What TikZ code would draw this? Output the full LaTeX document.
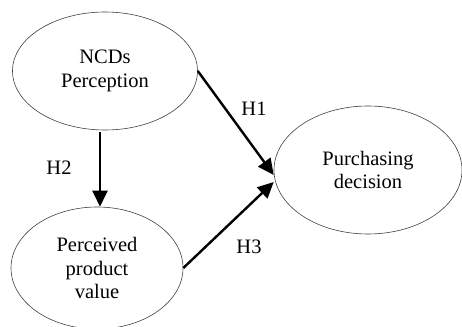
\documentclass[tikz,border=0pt]{standalone}
\usepackage{fontspec}
\setmainfont{Liberation Serif}
\usetikzlibrary{shapes.geometric,arrows.meta}
\begin{document}
\begin{tikzpicture}[x=1pt,y=-1pt,
  oval/.style={ellipse,draw=black!75,line width=0.6pt,inner sep=0pt,align=center,
    font=\fontsize{20.5}{23.5}\selectfont},
  link/.style={line width=2.4pt,-{Triangle[length=16pt,width=15pt]}},
  hlabel/.style={font=\fontsize{20.5}{23.5}\selectfont}]
\useasboundingbox (0,0) rectangle (462,326);
\node[oval,minimum width=185pt,minimum height=118pt] (ncd) at (105,71) {NCDs\\Perception};
\node[oval,minimum width=188pt,minimum height=128pt] (pur) at (368,170) {Purchasing\\decision};
\node[oval,minimum width=172pt,minimum height=122pt] (ppv) at (97,268) {Perceived\\product\\value};
\draw[link] (ncd.east) -- ([yshift=-5pt]pur.west);
\draw[link] (ppv.east) -- ([yshift=-12pt]pur.west);
\draw[link] ([yshift=-2pt]ncd.south -| 100,0) -- (ppv.north -| 100,0);
\node[hlabel] (h1) at (254,109) {H1};
\node[hlabel] (h2) at (59,168) {H2};
\node[hlabel] (h3) at (249,247) {H3};
\end{tikzpicture}
\end{document}
